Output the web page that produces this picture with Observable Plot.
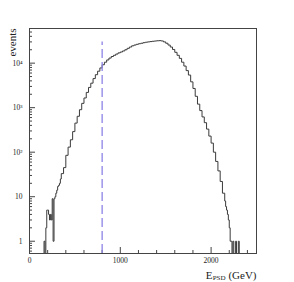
<!DOCTYPE html>
<html><head><meta charset="utf-8">
<script src="https://cdn.jsdelivr.net/npm/d3@7"></script>
<script src="https://cdn.jsdelivr.net/npm/@observablehq/plot@0.6"></script>
<style>body{margin:0;background:#fff}</style>
</head><body><div id="chart"></div>
<script>
// Histogram bin lower edges (GeV) and counts
const binLowEdges = [
  140,150,160,170,180,190,200,210,220,230,240,250,260,270,280,290,300,310,320,330,340,
  350,375,400,425,450,475,500,525,550,575,600,625,650,675,700,725,750,775,800,825,850,875,900,925,950,975,
  1000,1025,1050,1075,1100,1125,1150,1175,1200,1225,1250,1275,1300,1325,1350,1375,1400,1425,1450,1475,
  1500,1525,1550,1575,1600,1625,1650,1675,1700,1725,1750,1775,1800,1825,1850,1875,1900,1925,1950,1975,
  2000,2025,2050,2075,2100,2125,
  2150,2160,2170,2180,2190,2200,2210,2220,2230,2240,2250,2260,2270,2280,2290,2300,2310
];
const binCounts = [
  0,0,1,0,2,5,5,4,3,4,3,9,1,9,10,12,14,17,18,20,25,
  33,45,85,130,190,290,450,640,900,1250,1650,2200,2850,3550,4500,5500,6600,7800,9200,10500,11800,13000,14100,15000,16000,17000,
  17800,18800,20000,21500,23000,24500,25500,26500,27300,28000,28800,29500,30000,30500,31000,31400,31800,32000,31500,30000,
  28000,25500,23000,20300,17500,15000,12800,10500,8600,6800,5400,3800,2700,1800,1200,860,620,460,330,230,
  160,100,62,38,22,12,
  8,6,5,4,3,2,1,1,0,1,0,0,1,0,0,1,0
];
const lastEdge = 2320;

const yTickValues = [1, 10, 100, 1000, 10000];
const yTickLabels = ["1", "10", "10\u00B2", "10\u00B3", "10\u2074"];
const xTickValues = [0, 1000, 2000];
const xTickLabels = ["0", "1000", "2000"];
const cutEnergy = [800];
const cutTop = 30000;
const yAxisTitle = "events";
const xAxisTitleMain = "E";
const xAxisTitleSub = "PSD";
const xAxisTitleUnit = "(GeV)";

const yMin = 0.53, yMax = 60000;

const points = binLowEdges.map((e, i) => ({x: e, y: binCounts[i]}));
points.push({x: lastEdge, y: binCounts[binCounts.length - 1]});

const xMinor = d3.range(0, 2501, 200).filter(v => !xTickValues.includes(v));
const yMinor = [];
for (let d = -1; d <= 4; d++) for (let k = 2; k <= 9; k++) {
  const v = k * Math.pow(10, d);
  if (v > yMin && v < yMax) yMinor.push(v);
}

const axisColor = "#444";
const plot = Plot.plot({
  width: 294, height: 282,
  marginLeft: 29, marginRight: 38, marginTop: 28, marginBottom: 29,
  style: {fontFamily: "'Liberation Serif', 'DejaVu Serif', serif", fontSize: "7.5px", background: "#fff", color: "#222"},
  x: {domain: [0, 2500], label: null},
  y: {type: "log", domain: [yMin, yMax], label: null},
  marks: [
    Plot.axisX({ticks: xMinor, tickSize: -3, tickFormat: () => "", stroke: axisColor, label: null}),
    Plot.axisX({ticks: xTickValues, tickSize: -6, tickFormat: () => "", stroke: axisColor, label: null}),
    Plot.axisX({ticks: xTickValues, tickSize: 0, tickPadding: 4, tickFormat: d => xTickLabels[xTickValues.indexOf(d)], label: null}),
    Plot.axisY({ticks: yMinor, tickSize: -3, tickFormat: () => "", stroke: axisColor, label: null}),
    Plot.axisY({ticks: yTickValues, tickSize: -6, tickFormat: () => "", stroke: axisColor, label: null}),
    Plot.axisY({ticks: yTickValues, tickSize: 0, tickPadding: 7, tickFormat: d => yTickLabels[yTickValues.indexOf(d)], label: null}),
    Plot.frame({stroke: axisColor}),
    Plot.line(points, {x: "x", y: d => d.y > 0 ? d.y : 0.2, curve: "step-after", stroke: "#3a3a3a", strokeWidth: 1, clip: "frame"}),
    Plot.ruleX(cutEnergy, {y1: yMin, y2: cutTop, stroke: "#8c84e6", strokeWidth: 1.3, strokeDasharray: "9,4"}),
    Plot.text([yAxisTitle], {frameAnchor: "top-left", rotate: -90, textAnchor: "end", lineAnchor: "middle", dx: -17, fontSize: 11}),
    Plot.text([xAxisTitleUnit], {frameAnchor: "bottom-right", textAnchor: "end", lineAnchor: "middle", dy: 22, fontSize: 11}),
    Plot.text([xAxisTitleSub], {frameAnchor: "bottom-right", textAnchor: "end", lineAnchor: "middle", dx: -31, dy: 24.5, fontSize: 7}),
    Plot.text([xAxisTitleMain], {frameAnchor: "bottom-right", textAnchor: "end", lineAnchor: "middle", dx: -44, dy: 22, fontSize: 11})
  ]
});
document.getElementById("chart").appendChild(plot);
</script>
</body></html>
